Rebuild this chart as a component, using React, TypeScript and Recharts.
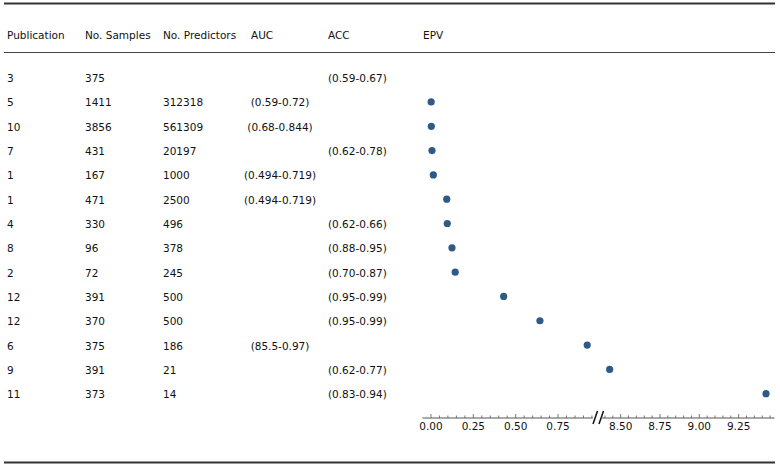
import React from "react";
import { ScatterChart, Scatter, XAxis, YAxis } from "recharts";

const publications = ["3", "5", "10", "7", "1", "1", "4", "8", "2", "12", "12", "6", "9", "11"];
const samples = ["375", "1411", "3856", "431", "167", "471", "330", "96", "72", "391", "370", "375", "391", "373"];
const predictors = ["", "312318", "561309", "20197", "1000", "2500", "496", "378", "245", "500", "500", "186", "21", "14"];
const auc = ["", "(0.59-0.72)", "(0.68-0.844)", "", "(0.494-0.719)", "(0.494-0.719)", "", "", "", "", "", "(85.5-0.97)", "", ""];
const acc = [
  "(0.59-0.67)", "", "", "(0.62-0.78)", "", "", "(0.62-0.66)", "(0.88-0.95)",
  "(0.70-0.87)", "(0.95-0.99)", "(0.95-0.99)", "", "(0.62-0.77)", "(0.83-0.94)",
];
const epv = [null, 0.001, 0.002, 0.006, 0.014, 0.093, 0.096, 0.124, 0.143, 0.429, 0.643, 0.922, 8.43, 9.424];

const leftTicks = [0, 0.05, 0.1, 0.15, 0.2, 0.25, 0.3, 0.35, 0.4, 0.45, 0.5, 0.55, 0.6, 0.65, 0.7, 0.75, 0.8, 0.85, 0.9, 0.95];
const rightTicks = [8.4, 8.45, 8.5, 8.55, 8.6, 8.65, 8.7, 8.75, 8.8, 8.85, 8.9, 8.95, 9.0, 9.05, 9.1, 9.15, 9.2, 9.25, 9.3, 9.35, 9.4, 9.45];

const headers = ["Publication", "No. Samples", "No. Predictors", "AUC", "ACC", "EPV"];

const W = 780;
const H = 448;
const TOP = 65.5;
const AXIS_H = 30;
const FONT = "'DejaVu Sans', sans-serif";
const FS = 10.5;
const TEXT = "#111";
const DOT = "#2e5a87";
const ROW_DOMAIN: [number, number] = [-0.5, 14];

const rowY = (i: number) => {
  const step = (H - AXIS_H - TOP) / (ROW_DOMAIN[1] - ROW_DOMAIN[0]);
  return TOP + (i - ROW_DOMAIN[0]) * step;
};

const points = epv
  .map((v, i) => (v == null ? null : { x: v, row: i }))
  .filter((p): p is { x: number; row: number } => p !== null);
const leftPoints = points.filter((p) => p.x < 5);
const rightPoints = points.filter((p) => p.x >= 5);

function Tick(props: any) {
  const { x, y, payload } = props;
  const v = payload.value;
  const major = Math.abs(v / 0.25 - Math.round(v / 0.25)) < 1e-6;
  return (
    <g>
      <line x1={x} x2={x} y1={y} y2={y - (major ? 4 : 2.5)} stroke="#555" strokeWidth={0.8} />
      {major && (
        <text x={x} y={y + 11.5} textAnchor="middle" fontSize={FS} fontFamily={FONT} fill={TEXT}>
          {v.toFixed(2)}
        </text>
      )}
    </g>
  );
}

const Dot = (props: any) => <circle cx={props.cx} cy={props.cy} r={3.6} fill={DOT} />;

function Segment({ data, domain, ticks, left, right }: any) {
  return (
    <div style={{ position: "absolute", left: 0, top: 0 }}>
      <ScatterChart width={W} height={H} margin={{ top: TOP, right, bottom: 0, left }}>
        <XAxis
          type="number"
          dataKey="x"
          domain={domain}
          ticks={ticks}
          allowDataOverflow
          interval={0}
          height={AXIS_H}
          tickSize={0}
          tickMargin={0}
          tickLine={false}
          stroke="#555"
          tick={(p: any) => <Tick {...p} />}
        />
        <YAxis type="number" dataKey="row" domain={ROW_DOMAIN} reversed hide allowDataOverflow />
        <Scatter data={data} shape={Dot} isAnimationActive={false} />
      </ScatterChart>
    </div>
  );
}

const colX = [7, 85, 163, 251, 328, 423];

export default function App() {
  return (
    <div style={{ position: "fixed", left: 0, top: 0, width: W, height: 468, background: "#fff", fontFamily: FONT }}>
      <svg width={W} height={468} style={{ position: "absolute", left: 0, top: 0 }}>
        <line x1={4} x2={775} y1={3.5} y2={3.5} stroke="#333" strokeWidth={2} />
        <line x1={4} x2={775} y1={52.5} y2={52.5} stroke="#444" strokeWidth={1} />
        <line x1={4} x2={775} y1={462.5} y2={462.5} stroke="#333" strokeWidth={2} />
        {headers.map((h, i) => (
          <text key={h} x={colX[i]} y={34.5} dominantBaseline="central" fontSize={FS} fill={TEXT} fontFamily={FONT}>
            {h}
          </text>
        ))}
        {publications.map((p, i) => {
          const y = rowY(i) + 0.5;
          return (
            <g key={i} fontSize={FS} fill={TEXT} fontFamily={FONT}>
              <text x={colX[0]} y={y} dominantBaseline="central">{p}</text>
              <text x={colX[1]} y={y} dominantBaseline="central">{samples[i]}</text>
              <text x={colX[2]} y={y} dominantBaseline="central">{predictors[i]}</text>
              <text x={280} y={y} dominantBaseline="central" textAnchor="middle">{auc[i]}</text>
              <text x={colX[4]} y={y} dominantBaseline="central">{acc[i]}</text>
            </g>
          );
        })}
        <line x1={593} x2={597.5} y1={424} y2={411} stroke="#111" strokeWidth={1.5} />
        <line x1={599} x2={603.5} y1={424} y2={411} stroke="#111" strokeWidth={1.5} />
      </svg>
      <Segment data={leftPoints} domain={[-0.05, 0.955]} ticks={leftTicks} left={422.5} right={W - 592.8} />
      <Segment data={rightPoints} domain={[8.375, 9.478]} ticks={rightTicks} left={601} right={W - 774.5} />
    </div>
  );
}
